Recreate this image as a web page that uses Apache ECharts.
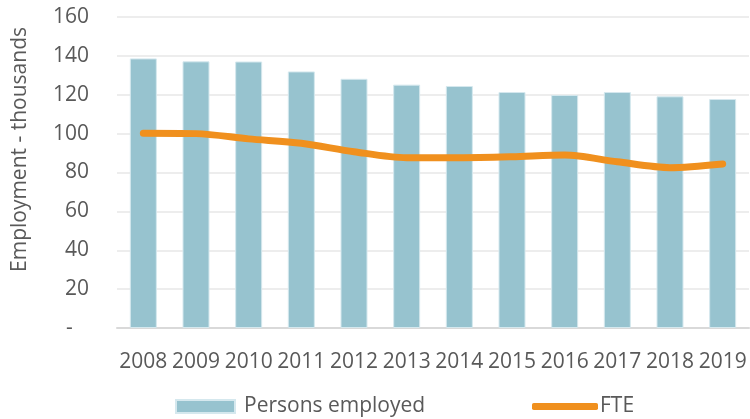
<!DOCTYPE html>
<html>
<head>
<meta charset="utf-8">
<script src="https://cdn.jsdelivr.net/npm/echarts@6/dist/echarts.min.js"></script>
<style>html,body{margin:0;padding:0;background:#fff}#chart{width:750px;height:419px}</style>
</head>
<body>
<div id="chart"></div>
<script>
var years = ['2008','2009','2010','2011','2012','2013','2014','2015','2016','2017','2018','2019'];
var personsEmployed = [138.7, 137.2, 137.1, 132.0, 128.2, 125.2, 124.5, 121.4, 119.9, 121.4, 119.2, 117.8];
var fte = [100.2, 100.0, 97.3, 95.0, 90.7, 87.6, 87.6, 88.1, 89.0, 85.5, 82.5, 84.4];
var yTicks = {min: 0, max: 160, interval: 20};

var FONT = 'Open Sans';
var TXT = '#595959';
var chart = echarts.init(document.getElementById('chart'), null, {renderer: 'canvas'});
chart.setOption({
  animation: false,
  textStyle: {fontFamily: FONT, color: TXT},
  grid: {left: 117, right: 1, top: 17, bottom: 91, containLabel: false},
  legend: [
    {
      data: ['Persons employed'], left: 175, top: 396, padding: 0,
      itemWidth: 59, itemHeight: 13, icon: 'rect',
      textStyle: {fontFamily: FONT, fontSize: 21, color: TXT, padding: [0,0,0,4]}
    },
    {
      data: ['FTE'], left: 532, top: 396, padding: 0,
      itemWidth: 66, itemHeight: 7, icon: 'roundRect',
      textStyle: {fontFamily: FONT, fontSize: 21, color: TXT, padding: [0,0,0,-3]}
    }
  ],
  xAxis: {
    type: 'category', data: years,
    axisLine: {lineStyle: {color: '#D9D9D9', width: 2}},
    axisTick: {show: false},
    axisLabel: {fontFamily: FONT, fontSize: 21, color: TXT, margin: 24, interval: 0}
  },
  yAxis: {
    type: 'value', min: yTicks.min, max: yTicks.max, interval: yTicks.interval,
    name: 'Employment - thousands', nameLocation: 'middle', nameGap: 86, nameRotate: 90,
    nameTextStyle: {fontFamily: FONT, fontSize: 21, color: TXT, padding: [0,0,0,46]},
    axisLine: {show: false}, axisTick: {show: false},
    splitLine: {lineStyle: {color: '#EDEDED', width: 2}},
    axisLabel: {fontFamily: FONT, fontSize: 21, color: TXT, margin: 28,
      formatter: function (v) { return v === 0 ? '-   ' : String(v); }}
  },
  series: [
    {
      name: 'Persons employed', type: 'bar', data: personsEmployed,
      barWidth: 27,
      itemStyle: {color: '#97C3CF', borderColor: '#D5E8EE', borderWidth: 1}
    },
    {
      name: 'FTE', type: 'line', data: fte, smooth: 0.3,
      showSymbol: false, symbol: 'none',
      lineStyle: {color: '#F0901E', width: 7, cap: 'round', join: 'round'},
      itemStyle: {color: '#F0901E'}
    }
  ]
});
</script>
</body>
</html>
